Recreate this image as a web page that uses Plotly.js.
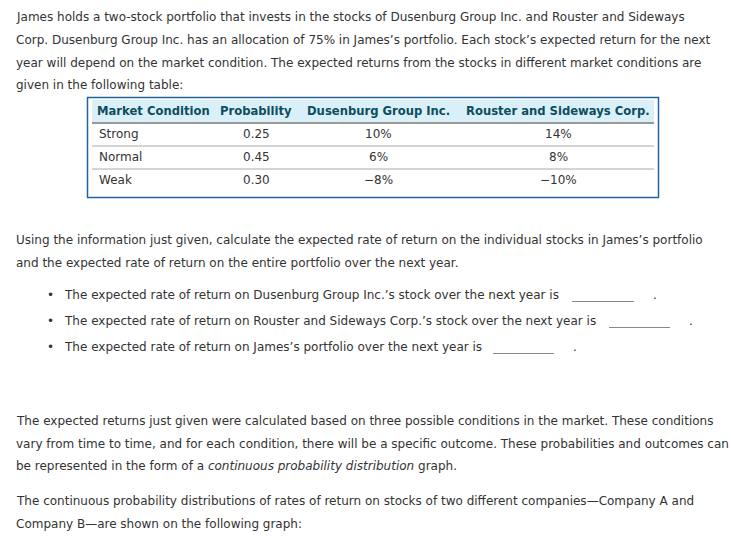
<!DOCTYPE html>
<html><head><meta charset="utf-8">
<script src="https://cdn.plot.ly/plotly-3.0.1.min.js"></script>
<style>html,body{margin:0;padding:0;background:#fff;}#chart{width:731px;height:546px;}</style>
</head><body><div id="chart"></div>
<script>
// ---- content ----
var para1 = [
  "James holds a two-stock portfolio that invests in the stocks of Dusenburg Group Inc. and Rouster and Sideways",
  "Corp. Dusenburg Group Inc. has an allocation of 75% in James\u2019s portfolio. Each stock\u2019s expected return for the next",
  "year will depend on the market condition. The expected returns from the stocks in different market conditions are",
  "given in the following table:"
];
var tableHeaders = ["Market Condition", "Probability", "Dusenburg Group Inc.", "Rouster and Sideways Corp."];
var conditions = ["Strong", "Normal", "Weak"];
var probabilities = ["0.25", "0.45", "0.30"];
var dusenburgReturns = ["10%", "6%", "\u22128%"];
var rousterReturns = ["14%", "8%", "\u221210%"];
var para2 = [
  "Using the information just given, calculate the expected rate of return on the individual stocks in James\u2019s portfolio",
  "and the expected rate of return on the entire portfolio over the next year."
];
var bullets = [
  "The expected rate of return on Dusenburg Group Inc.\u2019s stock over the next year is",
  "The expected rate of return on Rouster and Sideways Corp.\u2019s stock over the next year is",
  "The expected rate of return on James\u2019s portfolio over the next year is"
];
var para3 = [
  "The expected returns just given were calculated based on three possible conditions in the market. These conditions",
  "vary from time to time, and for each condition, there will be a specific outcome. These probabilities and outcomes can",
  "be represented in the form of a <i>continuous probability distribution</i> graph."
];
var para4 = [
  "The continuous probability distributions of rates of return on stocks of two different companies\u2014Company A and",
  "Company B\u2014are shown on the following graph:"
];

// ---- layout helpers ----
var W = 731, H = 546;
var FONT = "DejaVu Sans, Verdana, sans-serif";
var TXT = "#333333";
var FS = 12;
var annotations = [];
var shapes = [];
function txt(x, y, t, anchor, font) {
  annotations.push({x: x, y: y, xref: "x", yref: "y", text: t, showarrow: false,
    xanchor: anchor, yanchor: "middle", font: font || {family: FONT, size: FS, color: TXT}});
}
function addLines(lines, x0, y0, step) {
  lines.forEach(function (t, i) { txt(x0, y0 + i * step, t, "left"); });
}
addLines(para1, 14, 17, 22.8);
addLines(para2, 14, 240, 22.5);
addLines(para3, 14, 421, 22.5);
addLines(para4, 14, 501, 23);

var bulletY = [295, 321, 347];
var blankX = [[572, 634], [609, 670], [493, 554]];
bullets.forEach(function (t, i) {
  txt(50, bulletY[i], "\u2022", "center");
  txt(62, bulletY[i], t, "left");
  shapes.push({type: "line", xref: "x", yref: "y", x0: blankX[i][0], x1: blankX[i][1],
    y0: bulletY[i] + 6.5, y1: bulletY[i] + 6.5, line: {color: "#888888", width: 1}});
  txt(blankX[i][1] + 21, bulletY[i], ".", "center");
});

// ---- table (frame, header band, separators, cells) ----
shapes.push({type: "rect", xref: "x", yref: "y", x0: 92, x1: 654, y0: 100, y1: 122,
  fillcolor: "#d9f0f8", line: {width: 0}, layer: "below"});
shapes.push({type: "rect", xref: "x", yref: "y", x0: 87.5, x1: 658.5, y0: 97.5, y1: 197.5,
  line: {color: "#22639c", width: 1.5}});
shapes.push({type: "line", xref: "x", yref: "y", x0: 92, x1: 654, y0: 123, y1: 123, line: {color: "#999999", width: 2}});
shapes.push({type: "line", xref: "x", yref: "y", x0: 92, x1: 654, y0: 146, y1: 146, line: {color: "#aaaaaa", width: 1}});
shapes.push({type: "line", xref: "x", yref: "y", x0: 92, x1: 654, y0: 169, y1: 169, line: {color: "#aaaaaa", width: 1}});

var colX = [95, 256, 378, 558];
var colAnchor = ["left", "center", "center", "center"];
var headFont = {family: FONT, size: 11.6, color: "#0e4d5e"};
tableHeaders.forEach(function (h, j) { txt(colX[j], 111, "<b>" + h + "</b>", colAnchor[j], headFont); });
var cols = [conditions, probabilities, dusenburgReturns, rousterReturns];
var rowY = [134, 157, 180];
cols.forEach(function (col, j) {
  col.forEach(function (v, i) { txt(j === 0 ? 97 : colX[j], rowY[i], v, colAnchor[j]); });
});

var layout = {
  width: W, height: H,
  margin: {l: 0, r: 0, t: 0, b: 0},
  paper_bgcolor: "#ffffff", plot_bgcolor: "#ffffff",
  xaxis: {range: [0, W], visible: false, fixedrange: true},
  yaxis: {range: [H, 0], visible: false, fixedrange: true},
  showlegend: false,
  annotations: annotations,
  shapes: shapes
};
Plotly.newPlot("chart", [{type: "scatter", x: [], y: [], hoverinfo: "skip"}], layout, {staticPlot: true, displayModeBar: false});
</script></body></html>
